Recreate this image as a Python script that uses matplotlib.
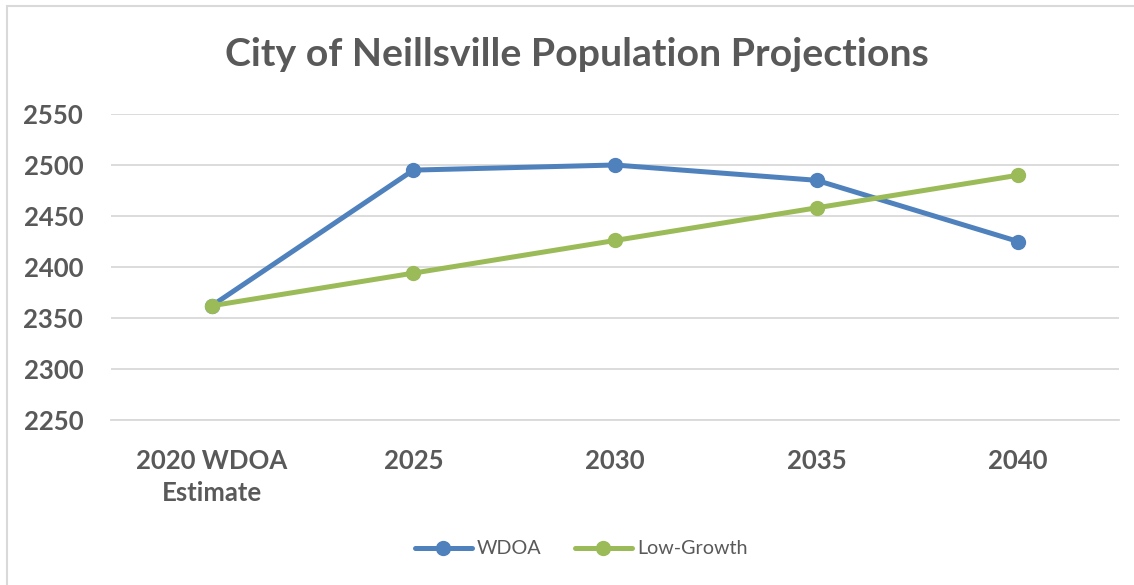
import matplotlib
matplotlib.use("Agg")
import matplotlib.pyplot as plt
from matplotlib.patches import Rectangle

plt.rcParams['font.family'] = ['Lato', 'DejaVu Sans']

categories = ["2020 WDOA\nEstimate", "2025", "2030", "2035", "2040"]
wdoa = [2362, 2495, 2500, 2485, 2425]
low_growth = [2362, 2394, 2426, 2458, 2490]
y_ticks = [2250, 2300, 2350, 2400, 2450, 2500, 2550]

TEXT = "#595959"
GRID = "#D9D9D9"
BLUE = "#4F81BD"
GREEN = "#9BBB59"

W, H = 1134, 585
fig = plt.figure(figsize=(W / 100, H / 100), dpi=100)

# chart area outline
fig.patches.append(Rectangle((7 / W, -0.2), 1.2, 1.2 - 6 / H, transform=fig.transFigure,
                             fill=False, edgecolor=GRID, linewidth=1.5))

ax = fig.add_axes([111 / W, 1 - 420 / H, (1119 - 111) / W, (420 - 114) / H])
x = list(range(len(categories)))
ax.plot(x, wdoa, color=BLUE, lw=3.6, marker="o", ms=10, label="WDOA", zorder=3,
        solid_capstyle="round")
ax.plot(x, low_growth, color=GREEN, lw=3.6, marker="o", ms=10, label="Low-Growth", zorder=3,
        solid_capstyle="round")

ax.set_xlim(-0.5, len(categories) - 0.5)
ax.set_ylim(2250, 2550)
ax.set_yticks(y_ticks)
ax.set_xticks(x)
ax.set_xticklabels(categories)
ax.grid(axis="y", color=GRID, lw=1.3)
ax.set_axisbelow(True)
for s in ["top", "right", "left"]:
    ax.spines[s].set_visible(False)
ax.spines["bottom"].set_color(GRID)
ax.spines["bottom"].set_linewidth(1.3)
ax.tick_params(length=0, colors=TEXT, labelsize=18.5)
ax.tick_params(axis="y", pad=20)
ax.tick_params(axis="x", pad=21)
for lab in ax.get_xticklabels() + ax.get_yticklabels():
    lab.set_fontweight("bold")
    lab.set_color(TEXT)
    lab.set_linespacing(1.4)

fig.text(0.509, 1 - 55 / H, "City of Neillsville Population Projections", ha="center",
         va="center", fontsize=28.3, fontweight="bold", color=TEXT)

leg = fig.legend(loc="center", bbox_to_anchor=(581 / W, 1 - 549 / H), ncol=2, frameon=False,
                 fontsize=14.2, handlelength=2.9, columnspacing=1.7, handletextpad=0.25)
for t in leg.get_texts():
    t.set_color(TEXT)

fig.savefig("out.png", dpi=100, facecolor="white")
